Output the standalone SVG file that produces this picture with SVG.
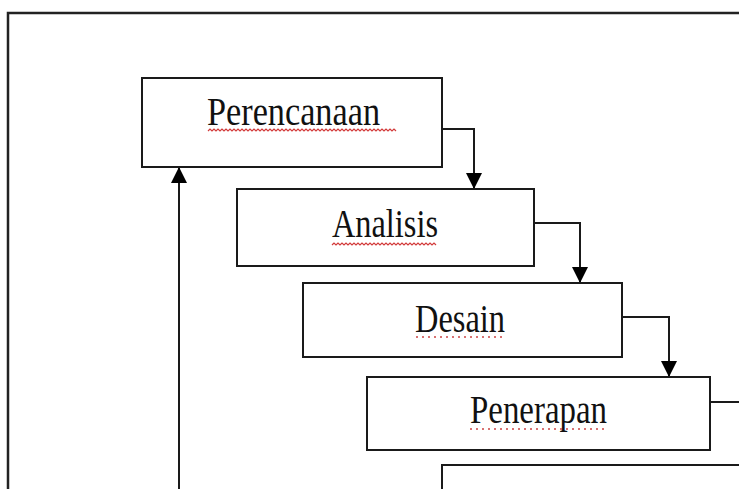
<svg xmlns="http://www.w3.org/2000/svg" width="739" height="489" viewBox="0 0 739 489">
<style>
.box{fill:#fff;stroke:#1a1a1a;stroke-width:2}
.lbl{font-family:"Liberation Serif","Times New Roman",serif;font-size:40px;fill:#111}
.con{fill:none;stroke:#1a1a1a;stroke-width:2}
.wavy{fill:none;stroke:#d23a3a;stroke-width:1.2}
.dot{fill:none;stroke:#c44;stroke-width:1.5;stroke-dasharray:2 4}
</style>
<defs>
<marker id="ah" viewBox="0 0 16 20" refX="16" refY="10" markerWidth="16" markerHeight="20" markerUnits="userSpaceOnUse" orient="auto">
<path d="M0,2 L16,10 L0,18 Z" fill="#000"/>
</marker>
</defs>
<rect width="739" height="489" fill="#fff"/>
<path d="M8,489 L8,13 L739,13" fill="none" stroke="#222" stroke-width="2.5"/>
<g id="connectors">
<path class="con" d="M442,129 H474 V189" marker-end="url(#ah)"/>
<path class="con" d="M534,223 H580 V283" marker-end="url(#ah)" stroke="#555" stroke-width="3"/>
<path class="con" d="M622,317 H669 V377" marker-end="url(#ah)"/>
<path class="con" d="M710,402 H739"/>
<path class="con" d="M179,489 V167" marker-end="url(#ah)"/>
</g>
<g id="perencanaan">
<rect class="box" x="142" y="78" width="300" height="89"/>
<text class="lbl" x="207" y="125" textLength="173" lengthAdjust="spacingAndGlyphs">Perencanaan</text>
<path class="wavy" d="M208,131 l2,-2 l2,2 l2,-2 l2,2 l2,-2 l2,2 l2,-2 l2,2 l2,-2 l2,2 l2,-2 l2,2 l2,-2 l2,2 l2,-2 l2,2 l2,-2 l2,2 l2,-2 l2,2 l2,-2 l2,2 l2,-2 l2,2 l2,-2 l2,2 l2,-2 l2,2 l2,-2 l2,2 l2,-2 l2,2 l2,-2 l2,2 l2,-2 l2,2 l2,-2 l2,2 l2,-2 l2,2 l2,-2 l2,2 l2,-2 l2,2 l2,-2 l2,2 l2,-2 l2,2 l2,-2 l2,2 l2,-2 l2,2 l2,-2 l2,2 l2,-2 l2,2 l2,-2 l2,2 l2,-2 l2,2 l2,-2 l2,2 l2,-2 l2,2 l2,-2 l2,2 l2,-2 l2,2 l2,-2 l2,2 l2,-2 l2,2 l2,-2 l2,2 l2,-2 l2,2 l2,-2 l2,2 l2,-2 l2,2 l2,-2 l2,2 l2,-2 l2,2 l2,-2 l2,2 l2,-2 l2,2 l2,-2 l2,2 l2,-2 l2,2 l2,-2 l2,2"/>
</g>
<g id="analisis">
<rect class="box" x="237" y="189" width="297" height="77"/>
<text class="lbl" x="332" y="237" textLength="106" lengthAdjust="spacingAndGlyphs">Analisis</text>
<path class="wavy" d="M332,245 l2,-2 l2,2 l2,-2 l2,2 l2,-2 l2,2 l2,-2 l2,2 l2,-2 l2,2 l2,-2 l2,2 l2,-2 l2,2 l2,-2 l2,2 l2,-2 l2,2 l2,-2 l2,2 l2,-2 l2,2 l2,-2 l2,2 l2,-2 l2,2 l2,-2 l2,2 l2,-2 l2,2 l2,-2 l2,2 l2,-2 l2,2 l2,-2 l2,2 l2,-2 l2,2 l2,-2 l2,2 l2,-2 l2,2 l2,-2 l2,2 l2,-2 l2,2 l2,-2 l2,2 l2,-2 l2,2 l2,-2 l2,2"/>
</g>
<g id="desain">
<rect class="box" x="303" y="283" width="319" height="74"/>
<text class="lbl" x="415" y="332" textLength="90" lengthAdjust="spacingAndGlyphs">Desain</text>
<path class="dot" d="M416,337 H506"/>
</g>
<g id="penerapan">
<rect class="box" x="367" y="377" width="343" height="73"/>
<text class="lbl" x="470" y="423" textLength="137" lengthAdjust="spacingAndGlyphs">Penerapan</text>
<path class="dot" d="M470,429 H608"/>
</g>
<g id="next">
<rect class="box" x="442" y="465" width="310" height="40"/>
</g>
</svg>
